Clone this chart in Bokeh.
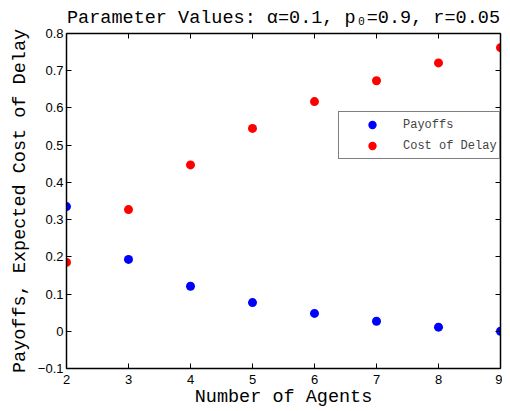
from bokeh.plotting import figure
from bokeh.models import (FixedTicker, LinearAxis, Legend, LegendItem,
                          CustomJSTickFormatter, Range1d)
from bokeh.embed import file_html
from bokeh.resources import INLINE

agents = [2, 3, 4, 5, 6, 7, 8, 9]
payoffs = [0.335, 0.193, 0.121, 0.077, 0.048, 0.027, 0.011, 0.0]
cost_of_delay = [0.185, 0.327, 0.447, 0.545, 0.617, 0.673, 0.721, 0.762]
x_ticks = [2, 3, 4, 5, 6, 7, 8, 9]
y_ticks = [-0.1, 0, 0.1, 0.2, 0.3, 0.4, 0.5, 0.6, 0.7, 0.8]
title_text = "Parameter Values: \u03b1=0.1, p\u2080=0.9, r=0.05"

MONO = "Liberation Mono"
SANS = "Liberation Sans"

p = figure(frame_width=434, frame_height=335, output_backend="svg", toolbar_location=None,
           x_range=Range1d(2, 9), y_range=Range1d(-0.1, 0.8),
           min_border_left=66, min_border_right=2, min_border_top=0,
           min_border_bottom=0)
p.grid.visible = False
p.outline_line_color = None
p.background_fill_color = "white"

p.title.text = title_text
p.title.text_font = MONO
p.title.text_font_size = "18.5px"
p.title.text_font_style = "normal"
p.title.text_color = "black"
p.title.align = "center"
p.title.offset = 3
p.title.standoff = 10

fmt = CustomJSTickFormatter(code="return Math.abs(tick) < 1e-9 ? '0' : tick.toFixed(1).replace('-', '\u2212');")
blank = CustomJSTickFormatter(code="return '';")

for ax in p.xaxis + p.yaxis:
    ax.major_tick_in = 5
    ax.major_tick_out = 0
    ax.minor_tick_line_color = None
    ax.axis_line_width = 1.5
    ax.major_tick_line_width = 1
    ax.major_label_text_font = SANS
    ax.major_label_text_font_size = "13px"
    ax.major_label_text_color = "black"
    ax.axis_label_text_font = MONO
    ax.axis_label_text_font_size = "18.5px"
    ax.axis_label_text_font_style = "normal"
    ax.axis_label_text_color = "black"
    ax.major_label_standoff = 3

p.xaxis.ticker = FixedTicker(ticks=x_ticks)
p.yaxis.ticker = FixedTicker(ticks=y_ticks)
p.yaxis.formatter = fmt
p.xaxis.axis_label = "Number of Agents"
p.yaxis.axis_label = "Payoffs, Expected Cost of Delay"
p.xaxis.major_label_standoff = 6
p.xaxis.axis_label_standoff = 0
p.yaxis.axis_label_standoff = 4

top = LinearAxis(ticker=FixedTicker(ticks=x_ticks), formatter=blank,
                 major_tick_in=5, major_tick_out=0, minor_tick_line_color=None,
                 axis_line_width=1.5, major_label_standoff=0)
right = LinearAxis(ticker=FixedTicker(ticks=y_ticks), formatter=blank,
                   major_tick_in=5, major_tick_out=0, minor_tick_line_color=None,
                   axis_line_width=1.5, major_label_standoff=0)
p.add_layout(top, "above")
p.add_layout(right, "right")

r1 = p.scatter(agents, payoffs, size=9, color="#0000ff", line_color=None)
r2 = p.scatter(agents, cost_of_delay, size=9, color="#ff0000", line_color=None)

legend = Legend(items=[LegendItem(label="Payoffs", renderers=[r1]),
                       LegendItem(label="Cost of Delay", renderers=[r2])],
                location=(272, 209), label_text_font=MONO, label_text_font_size="12px",
                border_line_color="black", border_line_width=1.5,
                background_fill_alpha=1, glyph_width=62, glyph_height=21,
                label_height=21, label_standoff=0, padding=2, spacing=0, margin=0)
p.add_layout(legend, "center")

open("out.html", "w").write(file_html(p, INLINE))
